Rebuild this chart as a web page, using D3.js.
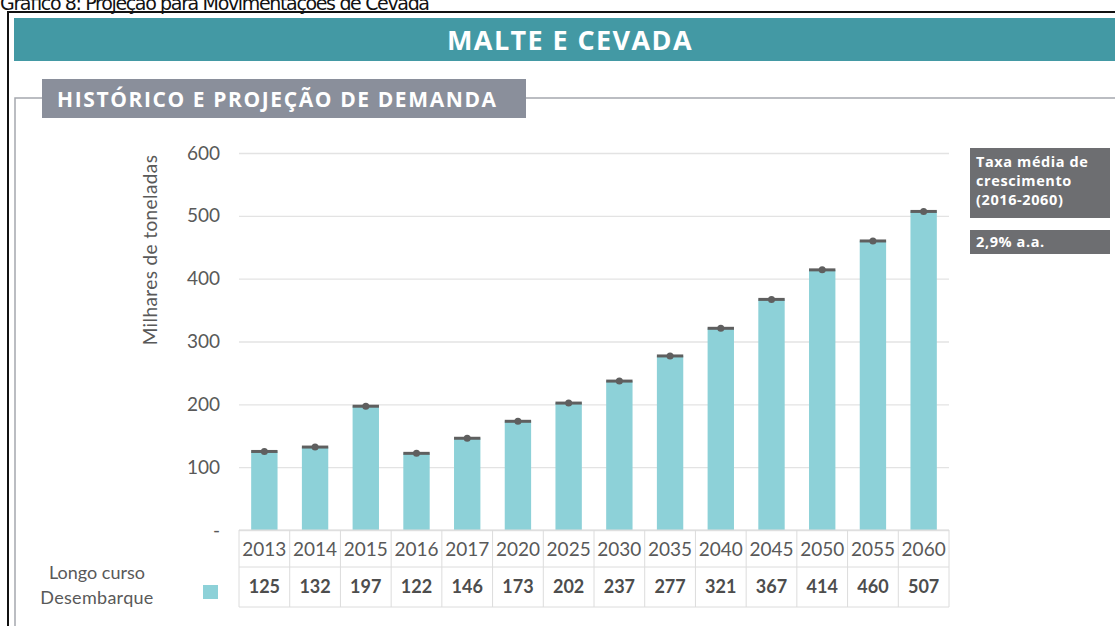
<!DOCTYPE html>
<html>
<head>
<meta charset="utf-8">
<script src="https://cdn.jsdelivr.net/npm/d3@7"></script>
<style>
  body { margin: 0; background: #fff; }
  svg { display: block; }
</style>
</head>
<body>
<svg id="chart" width="1115" height="626"></svg>
<script>

// data
var years = ["2013", "2014", "2015", "2016", "2017", "2020", "2025", "2030", "2035", "2040", "2045", "2050", "2055", "2060"];
var longoCurso = [125, 132, 197, 122, 146, 173, 202, 237, 277, 321, 367, 414, 460, 507];
var yTicks = [0, 100, 200, 300, 400, 500, 600];
var growthLabel = ["Taxa média de", "crescimento", "(2016-2060)"];
var growthValue = "2,9% a.a.";

var svg = d3.select("#chart");
var barColor = "#8dd1d8";
var textGray = "#595959";

// caption on top of the page (cut off in the scan)
svg.append("text")
  .attr("x", 0).attr("y", 10)
  .attr("font-family", "DejaVu Sans")
  .attr("font-size", 19)
  .attr("textLength", 430)
  .attr("fill", "#111")
  .text("Gráfico 8: Projeção para Movimentações de Cevada");

// black frame
svg.append("path")
  .attr("d", "M8,626 V12 H1115")
  .attr("fill", "none")
  .attr("stroke", "#111")
  .attr("stroke-width", 2);

// teal header
svg.append("rect")
  .attr("x", 14).attr("y", 18)
  .attr("width", 1101).attr("height", 43)
  .attr("fill", "#4399a4");
svg.append("text")
  .attr("x", 570).attr("y", 50)
  .attr("text-anchor", "middle")
  .attr("font-family", "Open Sans")
  .attr("font-weight", "bold")
  .attr("font-size", 27)
  .attr("letter-spacing", 1.4)
  .attr("fill", "#fff")
  .text("MALTE E CEVADA");

// gray panel line + title box
svg.append("path")
  .attr("d", "M15,626 V98 H1115")
  .attr("fill", "none")
  .attr("stroke", "#a5a8ae")
  .attr("stroke-width", 1.5);
svg.append("rect")
  .attr("x", 42).attr("y", 79)
  .attr("width", 484).attr("height", 39)
  .attr("fill", "#8a8f9b");
svg.append("text")
  .attr("x", 57).attr("y", 107)
  .attr("font-family", "Open Sans")
  .attr("font-weight", "bold")
  .attr("font-size", 21)
  .attr("letter-spacing", 1.6)
  .attr("fill", "#fff")
  .text("HISTÓRICO E PROJEÇÃO DE DEMANDA");

// scales
var x = d3.scaleBand().domain(years).range([239, 949]);
var y = d3.scaleLinear().domain([0, 600]).range([530, 153]);
var barW = x.bandwidth() * 0.52;

// y axis with gridlines
var yAxis = d3.axisLeft(y)
  .tickValues(yTicks)
  .tickSizeInner(-(949 - 239))
  .tickSizeOuter(0)
  .tickPadding(19)
  .tickFormat(function(d) { return d === 0 ? "-" : d; });

var gy = svg.append("g")
  .attr("transform", "translate(239,0)")
  .call(yAxis);
gy.select(".domain").remove();
gy.selectAll(".tick line").attr("stroke", "#e3e3e3").attr("stroke-width", 1.3);
gy.selectAll(".tick text")
  .attr("font-family", "Lato")
  .attr("font-size", 19)
  .attr("fill", textGray);

svg.append("text")
  .attr("transform", "translate(157,250) rotate(-90)")
  .attr("text-anchor", "middle")
  .attr("font-family", "Lato")
  .attr("font-size", 19)
  .attr("letter-spacing", 0.4)
  .attr("fill", textGray)
  .text("Milhares de toneladas");

// bars
svg.append("g").selectAll("rect")
  .data(longoCurso)
  .join("rect")
  .attr("x", function(d, i) { return x(years[i]) + (x.bandwidth() - barW) / 2; })
  .attr("y", function(d) { return y(d); })
  .attr("width", barW)
  .attr("height", function(d) { return y(0) - y(d); })
  .attr("fill", barColor);

// dark cap + dot on top of each bar
var caps = svg.append("g");
caps.selectAll("line")
  .data(longoCurso)
  .join("line")
  .attr("x1", function(d, i) { return x(years[i]) + (x.bandwidth() - barW) / 2; })
  .attr("x2", function(d, i) { return x(years[i]) + (x.bandwidth() + barW) / 2; })
  .attr("y1", function(d) { return y(d); })
  .attr("y2", function(d) { return y(d); })
  .attr("stroke", "#5f5f5f")
  .attr("stroke-width", 3);
caps.selectAll("circle")
  .data(longoCurso)
  .join("circle")
  .attr("cx", function(d, i) { return x(years[i]) + x.bandwidth() / 2; })
  .attr("cy", function(d) { return y(d); })
  .attr("r", 3.5)
  .attr("fill", "#5f5f5f");

// data table under the chart
var rowTop = 530, rowMid = 567, rowBot = 607;
var table = svg.append("g");
table.selectAll("line.v")
  .data(years.concat(["end"]))
  .join("line")
  .attr("class", "v")
  .attr("x1", function(d, i) { return i < years.length ? x(d) : x.range()[1]; })
  .attr("x2", function(d, i) { return i < years.length ? x(d) : x.range()[1]; })
  .attr("y1", rowTop).attr("y2", rowBot)
  .attr("stroke", "#dcdcdc");
table.selectAll("line.h")
  .data([rowTop, rowMid, rowBot])
  .join("line")
  .attr("class", "h")
  .attr("x1", 239).attr("x2", 949)
  .attr("y1", function(d) { return d; }).attr("y2", function(d) { return d; })
  .attr("stroke", "#dcdcdc");

table.selectAll("text.yr")
  .data(years)
  .join("text")
  .attr("class", "yr")
  .attr("x", function(d) { return x(d) + x.bandwidth() / 2; })
  .attr("y", 556)
  .attr("text-anchor", "middle")
  .attr("font-family", "Lato")
  .attr("font-size", 19)
  .attr("fill", textGray)
  .text(function(d) { return d; });

table.selectAll("text.val")
  .data(longoCurso)
  .join("text")
  .attr("class", "val")
  .attr("x", function(d, i) { return x(years[i]) + x.bandwidth() / 2; })
  .attr("y", 593)
  .attr("text-anchor", "middle")
  .attr("font-family", "Lato")
  .attr("font-weight", "bold")
  .attr("font-size", 18)
  .attr("fill", "#4d4d4d")
  .text(function(d) { return d; });

// series label + legend key
svg.append("text")
  .attr("x", 97).attr("y", 579)
  .attr("text-anchor", "middle")
  .attr("font-family", "Lato")
  .attr("font-size", 18)
  .attr("fill", textGray)
  .text("Longo curso");
svg.append("text")
  .attr("x", 97).attr("y", 604)
  .attr("text-anchor", "middle")
  .attr("font-family", "Lato")
  .attr("font-size", 18)
  .attr("letter-spacing", 0.3)
  .attr("fill", textGray)
  .text("Desembarque");
svg.append("rect")
  .attr("x", 203).attr("y", 585)
  .attr("width", 15).attr("height", 14)
  .attr("fill", barColor);

// growth rate boxes on the right
svg.append("rect")
  .attr("x", 970).attr("y", 148)
  .attr("width", 140).attr("height", 70)
  .attr("fill", "#6d6e71");
svg.append("g").selectAll("text")
  .data(growthLabel)
  .join("text")
  .attr("x", 976)
  .attr("y", function(d, i) { return 167 + i * 19; })
  .attr("font-family", "Open Sans")
  .attr("font-weight", "bold")
  .attr("font-size", 14.5)
  .attr("letter-spacing", 0.6)
  .attr("fill", "#fff")
  .text(function(d) { return d; });

svg.append("rect")
  .attr("x", 970).attr("y", 230)
  .attr("width", 140).attr("height", 24)
  .attr("fill", "#6d6e71");
svg.append("text")
  .attr("x", 976).attr("y", 247)
  .attr("font-family", "Open Sans")
  .attr("font-weight", "bold")
  .attr("font-size", 14.5)
  .attr("letter-spacing", 0.6)
  .attr("fill", "#fff")
  .text(growthValue);

</script>
</body>
</html>
